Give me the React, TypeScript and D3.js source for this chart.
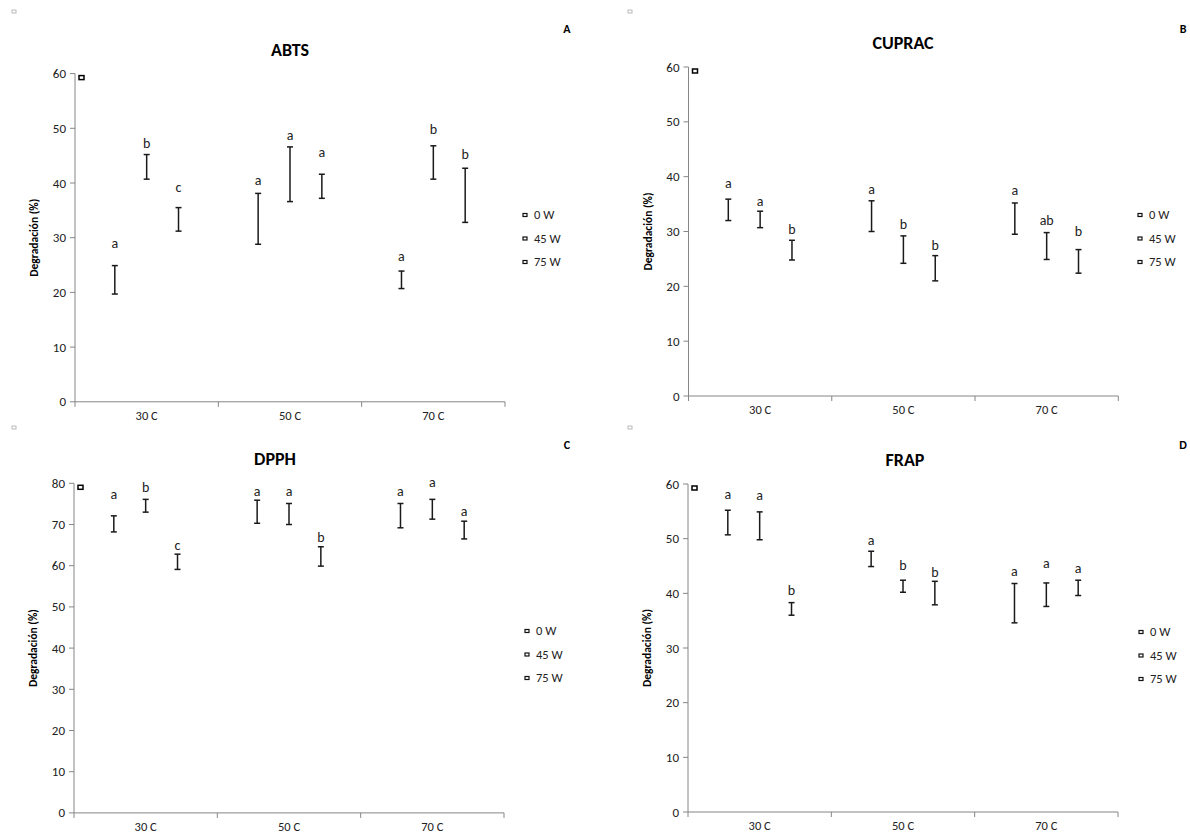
import React from 'react';
import * as d3 from 'd3';

const categories = ['30 C', '50 C', '70 C'];
const series = ['0 W', '45 W', '75 W'];

// [category][series]
const abtsMean = [[22.3, 42.95, 33.35], [33.45, 41.6, 39.4], [22.3, 43.75, 37.75]];
const abtsErr = [[2.6, 2.25, 2.15], [4.65, 5.0, 2.2], [1.6, 3.05, 4.95]];
const abtsLetters = [['a', 'b', 'c'], ['a', 'a', 'a'], ['a', 'b', 'b']];
const abtsLetterAt = [[28.1, 46.4, 38.4], [39.6, 47.8, 44.8], [25.8, 49.0, 44.4]];

const cupracMean = [[33.95, 32.2, 26.6], [32.8, 26.7, 23.3], [32.35, 27.35, 24.55]];
const cupracErr = [[1.95, 1.5, 1.8], [2.8, 2.5, 2.3], [2.85, 2.45, 2.15]];
const cupracLetters = [['a', 'a', 'b'], ['a', 'b', 'b'], ['a', 'ab', 'b']];
const cupracLetterAt = [[38.0, 34.6, 29.6], [36.8, 30.5, 26.7], [36.7, 31.2, 29.2]];

const dpphMean = [[70.15, 74.55, 60.95], [73.1, 72.55, 62.25], [72.15, 73.7, 68.65]];
const dpphErr = [[1.95, 1.55, 1.85], [2.8, 2.55, 2.35], [2.95, 2.4, 2.15]];
const dpphLetters = [['a', 'b', 'c'], ['a', 'a', 'b'], ['a', 'a', 'a']];
const dpphLetterAt = [[76.2, 78.0, 63.7], [76.8, 76.8, 65.8], [76.8, 79.0, 72.0]];

const frapMean = [[52.95, 52.35, 37.15], [46.3, 41.3, 40.05], [38.2, 39.75, 41.0]];
const frapErr = [[2.25, 2.55, 1.15], [1.4, 1.1, 2.15], [3.6, 2.15, 1.4]];
const frapLetters = [['a', 'a', 'b'], ['a', 'b', 'b'], ['a', 'a', 'a']];
const frapLetterAt = [[57.2, 57.1, 39.7], [48.9, 44.3, 42.9], [43.2, 44.6, 43.8]];

const FONT = 'Calibri, Carlito, Lato, sans-serif';
const AXIS = '#868686';

function Panel(props) {
  const { title, tag, yMax, mean, err, letters, letterAt, x0, x1, yTop, yBottom, titleX, legendX, legendY, corner } = props;

  const x = d3.scaleBand().domain(categories).range([x0, x1]);
  const inner = d3.scaleBand().domain(series).range([-x.bandwidth() / 3, x.bandwidth() / 3]);
  const y = d3.scaleLinear().domain([0, yMax]).range([yBottom, yTop]);
  const ticks = d3.range(0, yMax + 1, 10);
  const cx = (c, s) => x(c) + x.bandwidth() / 2 + inner(s) + inner.bandwidth() / 2;
  const boundaries = [x0].concat(categories.map(c => x(c) + x.bandwidth()));

  return (
    <g fontFamily={FONT}>
      <rect x={corner[0]} y={corner[1]} width={4} height={3} fill="none" stroke="#aaa" strokeWidth={0.8} />
      <text x={titleX} y={yTop - 18} textAnchor="middle" fontSize={18} fontWeight="bold">{title}</text>
      <text x={corner[0] + 555} y={corner[1] + 23} textAnchor="middle" fontSize={12} fontWeight="bold">{tag}</text>

      {/* y axis */}
      <line x1={x0} x2={x0} y1={yTop} y2={yBottom} stroke={AXIS} />
      {ticks.map(t => (
        <g key={t}>
          <line x1={x0 - 5} x2={x0} y1={y(t)} y2={y(t)} stroke={AXIS} />
          <text x={x0 - 9} y={y(t)} dy="0.35em" textAnchor="end" fontSize={13} fill="#222">{t}</text>
        </g>
      ))}
      <text transform={`translate(${x0 - 37},${(yTop + yBottom) / 2}) rotate(-90)`} textAnchor="middle"
        fontSize={11.5} fontWeight="bold">Degradación (%)</text>

      {/* x axis */}
      <line x1={x0} x2={x1} y1={yBottom} y2={yBottom} stroke={AXIS} />
      {boundaries.map((b, i) => (
        <line key={i} x1={b} x2={b} y1={yBottom} y2={yBottom + 5} stroke={AXIS} />
      ))}
      {categories.map(c => (
        <text key={c} x={x(c) + x.bandwidth() / 2} y={yBottom + 18} textAnchor="middle" fontSize={12.5} fill="#222">{c}</text>
      ))}

      {/* odd marker near top */}
      <rect x={x0 + 4} y={y(yMax) + 2} width={5} height={4} fill="#fff" stroke="#000" strokeWidth={1.5} />

      {/* error bars */}
      {categories.map((c, ci) => series.map((s, si) => {
        const px = cx(c, s);
        const hi = y(mean[ci][si] + err[ci][si]);
        const lo = y(mean[ci][si] - err[ci][si]);
        return (
          <g key={c + s}>
            <line x1={px} x2={px} y1={hi} y2={lo} stroke="#1a1a1a" strokeWidth={1.5} />
            <line x1={px - 3} x2={px + 3} y1={hi} y2={hi} stroke="#1a1a1a" strokeWidth={1.5} />
            <line x1={px - 3} x2={px + 3} y1={lo} y2={lo} stroke="#1a1a1a" strokeWidth={1.5} />
            <text x={px} y={y(letterAt[ci][si])} textAnchor="middle" fontSize={14} fill="#222">{letters[ci][si]}</text>
          </g>
        );
      }))}

      {/* legend */}
      {series.map((s, i) => (
        <g key={s} transform={`translate(${legendX},${legendY + i * 23.5})`}>
          <rect x={-2} y={-1.5} width={4} height={3} fill="#fff" stroke="#111" strokeWidth={1.2} />
          <text x={9} y={0} dy="0.35em" fontSize={12.5} fill="#222">{s}</text>
        </g>
      ))}
    </g>
  );
}

export default function App() {
  return (
    <svg width={1190} height={834} style={{ position: 'absolute', left: 0, top: 0, background: '#fff' }}>
      <Panel title="ABTS" tag="A" yMax={60} mean={abtsMean} err={abtsErr} letters={abtsLetters} letterAt={abtsLetterAt}
        x0={75} x1={505} yTop={73.6} yBottom={401.8} titleX={290} legendX={525} legendY={215} corner={[12, 10]} />
      <Panel title="CUPRAC" tag="B" yMax={60} mean={cupracMean} err={cupracErr} letters={cupracLetters} letterAt={cupracLetterAt}
        x0={688.5} x1={1118.3} yTop={67} yBottom={396} titleX={903} legendX={1140} legendY={215} corner={[628, 10]} />
      <Panel title="DPPH" tag="C" yMax={80} mean={dpphMean} err={dpphErr} letters={dpphLetters} letterAt={dpphLetterAt}
        x0={74} x1={504} yTop={483.3} yBottom={812.9} titleX={275} legendX={527} legendY={631} corner={[12, 426]} />
      <Panel title="FRAP" tag="D" yMax={60} mean={frapMean} err={frapErr} letters={frapLetters} letterAt={frapLetterAt}
        x0={688} x1={1118} yTop={484} yBottom={812} titleX={905} legendX={1141} legendY={632} corner={[628, 426]} />
    </svg>
  );
}
